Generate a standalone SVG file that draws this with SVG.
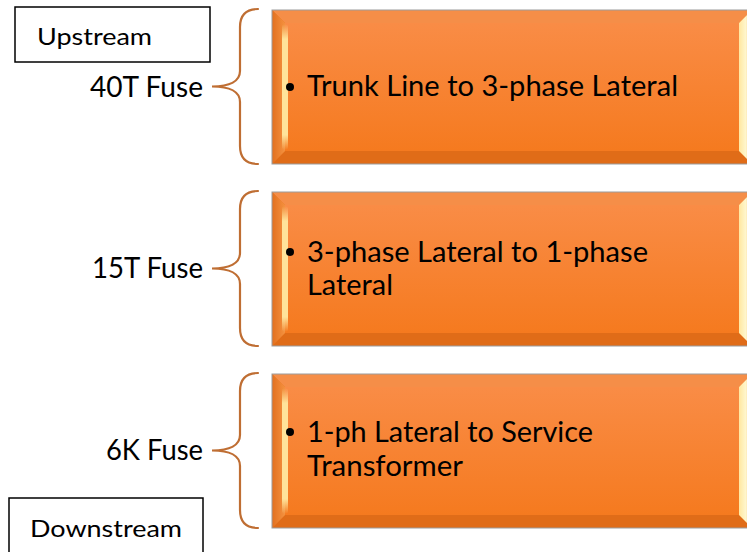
<svg xmlns="http://www.w3.org/2000/svg" xmlns:xlink="http://www.w3.org/1999/xlink" width="747" height="552" viewBox="0 0 747 552">
<style>
.lbl{font-family:Lato,"Open Sans","Liberation Sans",sans-serif;fill:#000}
.big{font-size:28px}
.box{font-size:28px}
.small{font-size:24px}
.brace{fill:none;stroke:#BF6E33;stroke-width:2.2;stroke-linecap:round}
.frame{fill:#fff;stroke:#000;stroke-width:1.5}
</style>
<defs>
<linearGradient id="gIn" x1="0" y1="0" x2="0" y2="1">
<stop offset="0" stop-color="#F98C46"/>
<stop offset="1" stop-color="#F57A1F"/>
</linearGradient>
<linearGradient id="gL" x1="0" y1="0" x2="1" y2="0">
<stop offset="0" stop-color="#E2701F"/>
<stop offset="1" stop-color="#F4913F"/>
</linearGradient>
<linearGradient id="gHL" x1="0" y1="0" x2="0" y2="1">
<stop offset="0" stop-color="#FFE39A" stop-opacity="0"/>
<stop offset="0.12" stop-color="#FFE39A"/>
<stop offset="0.88" stop-color="#FFE39A"/>
<stop offset="1" stop-color="#FFE39A" stop-opacity="0"/>
</linearGradient>
<linearGradient id="gR" x1="0" y1="0" x2="1" y2="0">
<stop offset="0" stop-color="#FFE7A0"/>
<stop offset="0.5" stop-color="#FFF6CC"/>
<stop offset="1" stop-color="#FBC27A"/>
</linearGradient>
<g id="bevel">
<rect x="272" y="0" width="480" height="154" fill="#E8741F"/>
<polygon points="272,0 752,0 739,13 285,13" fill="#F58E48"/>
<polygon points="272,154 752,154 739,141 285,141" fill="#E06C18"/>
<polygon points="272,0 285,13 285,141 272,154" fill="url(#gL)"/>
<polygon points="752,0 739,13 739,141 752,154" fill="url(#gR)"/>
<rect x="285" y="13" width="454" height="128" fill="url(#gIn)"/>
<rect x="282" y="14" width="6" height="126" rx="3" fill="url(#gHL)"/>
<rect x="272" y="0" width="480" height="154" fill="none" stroke="#9C9C9C" stroke-width="1"/>
</g>
<path id="bracePath" d="M258,0 C246,0 240,6 240,18 L240,62 C240,72 230,77.5 212,77.5 C230,77.5 240,83 240,93 L240,137 C240,149 246,155 258,155"/>
</defs>

<g id="upstream">
<rect class="frame" x="15" y="7" width="195" height="55"/>
<text class="lbl small" x="37" y="45" textLength="115" lengthAdjust="spacingAndGlyphs">Upstream</text>
</g>

<g id="downstream">
<rect class="frame" x="9" y="498" width="194" height="60"/>
<text class="lbl small" x="30" y="537" textLength="152" lengthAdjust="spacingAndGlyphs">Downstream</text>
</g>

<g id="connectors">
<use xlink:href="#bracePath" class="brace" transform="translate(0,9)"/>
<use xlink:href="#bracePath" class="brace" transform="translate(0,191)"/>
<use xlink:href="#bracePath" class="brace" transform="translate(0,373)"/>
</g>

<g id="label-40T">
<text class="lbl big" x="203" y="97" text-anchor="end" textLength="113" lengthAdjust="spacingAndGlyphs">40T Fuse</text>
</g>
<g id="label-15T">
<text class="lbl big" x="203" y="278" text-anchor="end" textLength="111" lengthAdjust="spacingAndGlyphs">15T Fuse</text>
</g>
<g id="label-6K">
<text class="lbl big" x="203" y="460" text-anchor="end" textLength="97" lengthAdjust="spacingAndGlyphs">6K Fuse</text>
</g>

<g id="node-1">
<use xlink:href="#bevel" transform="translate(0,10)"/>
<circle cx="290" cy="87" r="4" fill="#000"/>
<text class="lbl box" x="307" y="96" textLength="371" lengthAdjust="spacingAndGlyphs">Trunk Line to 3-phase Lateral</text>
</g>

<g id="node-2">
<use xlink:href="#bevel" transform="translate(0,192)"/>
<circle cx="290" cy="252" r="4" fill="#000"/>
<text class="lbl box" x="307" y="262" textLength="341" lengthAdjust="spacingAndGlyphs">3-phase Lateral to 1-phase</text>
<text class="lbl box" x="307" y="295" textLength="86" lengthAdjust="spacingAndGlyphs">Lateral</text>
</g>

<g id="node-3">
<use xlink:href="#bevel" transform="translate(0,374)"/>
<circle cx="290" cy="432" r="4" fill="#000"/>
<text class="lbl box" x="307" y="442" textLength="286" lengthAdjust="spacingAndGlyphs">1-ph Lateral to Service</text>
<text class="lbl box" x="307" y="476" textLength="156" lengthAdjust="spacingAndGlyphs">Transformer</text>
</g>
</svg>
